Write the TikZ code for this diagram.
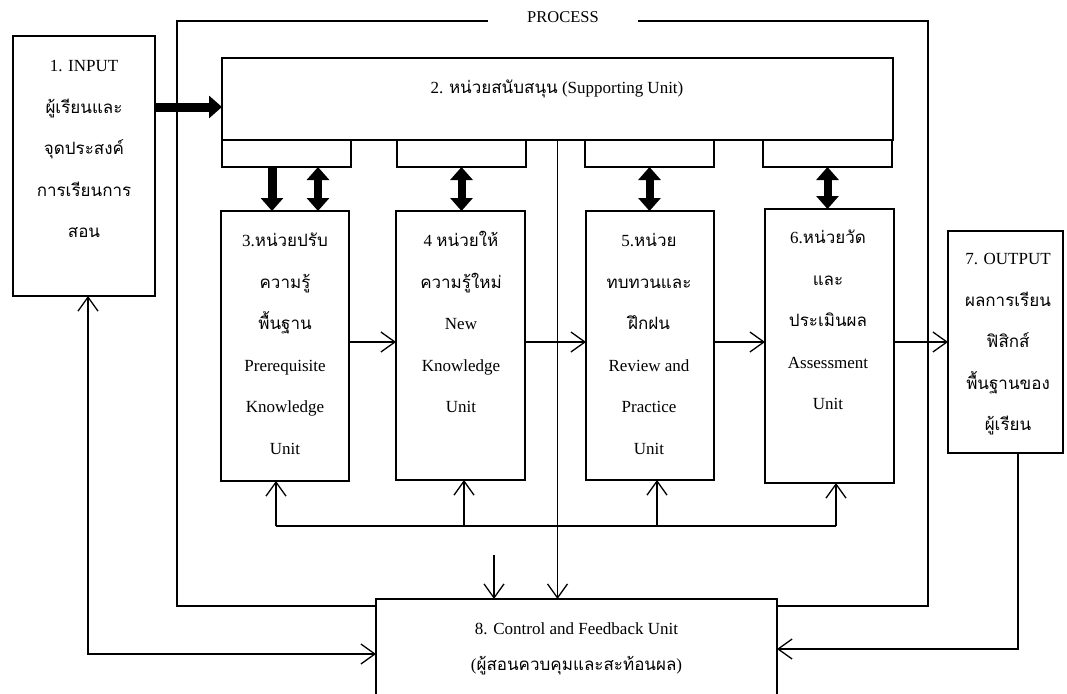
\documentclass[tikz,border=0pt]{standalone}
\usepackage{fontspec}
\setmainfont{Liberation Serif}
\newfontfamily\thai[Script=Thai]{Loma}
\usetikzlibrary{arrows.meta,calc}
\begin{document}
\begin{tikzpicture}[x=1pt,y=-1pt,
  box/.style={draw,line width=1.2pt,inner sep=0pt,outer sep=0pt},
  txt/.style={align=center,inner sep=0pt,font=\fontsize{17}{41.5}\selectfont,anchor=base},
  fat/.style={line width=9pt,-{Triangle[width=22pt,length=13pt]}},
  fatboth/.style={line width=8pt,{Triangle[width=22pt,length=13pt]}-{Triangle[width=22pt,length=13pt]}},
  arr/.style={line width=1.3pt,-{Straight Barb[length=14pt,width=20pt]}},
  arrboth/.style={line width=1.3pt,{Straight Barb[length=14pt,width=20pt]}-{Straight Barb[length=14pt,width=20pt]}},
  ln/.style={line width=1.3pt}
]
\useasboundingbox (0,0) rectangle (1067,693);
\fill[white] (0,0) rectangle (1067,693);
% process frame
\node[box,minimum width=751pt,minimum height=585pt] (proc) at (552.5,313.5) {};
\node[fill=white,inner xsep=39pt,inner ysep=3pt,font=\fontsize{16.5}{20}\selectfont,anchor=base] (plab) at (563,22.5) {PROCESS};
% control box
\node[box,fill=white,minimum width=401pt,minimum height=111pt] (ctl) at (576.5,654.5) {};
\node[txt,font=\fontsize{17}{36}\selectfont] (t8) at (576.5,670.5) {8. Control and Feedback Unit\\({\thai ผู้สอนควบคุมและสะท้อนผล})};
% input
\node[box,minimum width=142pt,minimum height=260pt] (in) at (84,166) {};
\node[txt] (t1) at (84,237.5) {1. INPUT\\{\thai ผู้เรียนและ}\\{\thai จุดประสงค์}\\{\thai การเรียนการ}\\{\thai สอน}};
% supporting unit
\node[box,minimum width=671pt,minimum height=82pt] (sup) at (557.5,99) {};
\node[txt] (t2) at (557,93.5) {2. {\thai หน่วยสนับสนุน} (Supporting Unit)};
\node[box,minimum width=129pt,minimum height=27pt] (tab1) at (286.5,153.5) {};
\node[box,minimum width=129pt,minimum height=27pt] (tab2) at (461.5,153.5) {};
\node[box,minimum width=129pt,minimum height=27pt] (tab3) at (649.5,153.5) {};
\node[box,minimum width=129pt,minimum height=27pt] (tab4) at (827.5,153.5) {};
% unit boxes
\node[box,minimum width=128pt,minimum height=270pt] (b3) at (285,346) {};
\node[box,minimum width=129pt,minimum height=269pt] (b4) at (460.5,345.5) {};
\node[box,minimum width=128pt,minimum height=269pt] (b5) at (650,345.5) {};
\node[box,minimum width=129pt,minimum height=274pt] (b6) at (829.5,346) {};
\node[box,minimum width=115pt,minimum height=222pt] (b7) at (1005.5,342) {};
\node[txt] (t3) at (285,454) {3.{\thai หน่วยปรับ}\\{\thai ความรู้}\\{\thai พื้นฐาน}\\Prerequisite\\Knowledge\\Unit};
\node[txt] (t4) at (461,412.5) {4 {\thai หน่วยให้}\\{\thai ความรู้ใหม่}\\New\\Knowledge\\Unit};
\node[txt] (t5) at (649,454) {5.{\thai หน่วย}\\{\thai ทบทวนและ}\\{\thai ฝึกฝน}\\Review and\\Practice\\Unit};
\node[txt] (t6) at (828,409.5) {6.{\thai หน่วยวัด}\\{\thai และ}\\{\thai ประเมินผล}\\Assessment\\Unit};
\node[txt] (t7) at (1008,430.5) {7. OUTPUT\\{\thai ผลการเรียน}\\{\thai ฟิสิกส์}\\{\thai พื้นฐานของ}\\{\thai ผู้เรียน}};
% thick arrows
\coordinate (ia) at ($(sup.west)+(0,8)$);
\draw[fat] (in.east |- ia) -- (ia);
\coordinate (k1) at ($(tab1.south)+(-14.5,0)$);
\coordinate (k2) at ($(tab1.south)+(31.5,0)$);
\draw[fat] (k1) -- (k1 |- b3.north);
\draw[fatboth] (k2) -- (k2 |- b3.north);
\draw[fatboth] (tab2.south) -- (tab2.south |- b4.north);
\draw[fatboth] (tab3.south) -- (tab3.south |- b5.north);
\draw[fatboth] (tab4.south) -- (tab4.south |- b6.north);
% flow arrows
\coordinate (row) at (0,342);
\draw[arr] (b3.east |- row) -- (b4.west |- row);
\draw[arr] (b4.east |- row) -- (b5.west |- row);
\draw[arr] (b5.east |- row) -- (b6.west |- row);
\draw[arr] (b6.east |- row) -- (b7.west |- row);
% feedback bus
\coordinate (bus) at (0,526);
\coordinate (u3) at ($(b3.south)+(-9,0)$);
\coordinate (u4) at ($(b4.south)+(3.5,0)$);
\coordinate (u5) at ($(b5.south)+(7,0)$);
\coordinate (u6) at ($(b6.south)+(6.5,0)$);
\draw[ln] (u3 |- bus) -- (u6 |- bus);
\foreach \u in {u3,u4,u5,u6} \draw[arr] (\u |- bus) -- (\u);
% to control
\draw[arr] (sup.south) -- (sup.south |- ctl.north);
\coordinate (d1) at (494,555);
\draw[arr] (d1) -- (d1 |- ctl.north);
\coordinate (i1) at ($(in.south)+(4,0)$);
\coordinate (lrow) at (0,654);
\draw[arrboth] (i1) -- (i1 |- lrow) -- (ctl.west |- lrow);
\coordinate (r7) at ($(b7.south)+(12.5,0)$);
\coordinate (rrow) at (0,649);
\draw[arr] (r7) -- (r7 |- rrow) -- (ctl.east |- rrow);
\end{tikzpicture}
\end{document}
